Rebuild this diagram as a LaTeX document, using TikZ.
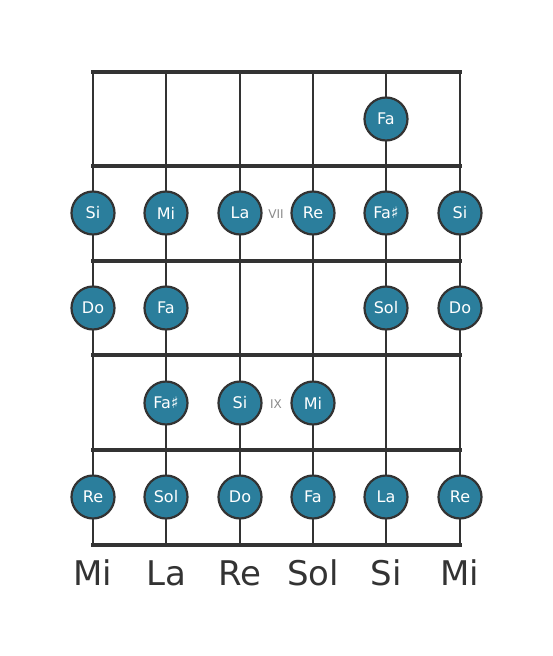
\documentclass[tikz,border=0pt]{standalone}
\usepackage{fontspec}
\setmainfont{DejaVu Sans}
\definecolor{ink}{HTML}{333333}
\definecolor{teal}{HTML}{2B7E9C}
\definecolor{roman}{HTML}{8A8A8A}
\begin{document}
\begin{tikzpicture}[x=1pt,y=-1pt,
  fret/.style={ink,line width=4.5pt},
  string/.style={ink,line width=2.2pt},
  note/.style={circle,draw=ink,line width=2.2pt,fill=teal,minimum size=43pt,inner sep=0pt,text=white,font=\fontsize{16}{16}\selectfont},
  fretnum/.style={text=roman,font=\fontsize{12}{12}\selectfont},
  strname/.style={text=ink,font=\fontsize{34}{34}\selectfont}]
\useasboundingbox (0,0) rectangle (553,656);
% strings
\foreach \x/\n in {93/s1,166/s2,240/s3,313/s4,386/s5,460/s6}{
  \coordinate (\n t) at (\x,72);
  \coordinate (\n b) at (\x,545);
  \draw[string] (\n t) -- (\n b);
}
% frets
\foreach \y/\n in {72/f0,166/f1,261/f2,355/f3,450/f4,545/f5}{
  \coordinate (\n l) at (91,\y);
  \coordinate (\n r) at (462,\y);
  \draw[fret] (\n l) -- (\n r);
}
% notes
\node[note] (a5) at (386,119) {Fa};
\node[note] (b1) at (93,213) {Si};
\node[note] (b2) at (166,213) {Mi};
\node[note] (b3) at (240,213) {La};
\node[note] (b4) at (313,213) {Re};
\node[note] (b5) at (386,213) {Fa♯};
\node[note] (b6) at (460,213) {Si};
\node[note] (c1) at (93,308) {Do};
\node[note] (c2) at (166,308) {Fa};
\node[note] (c5) at (386,308) {Sol};
\node[note] (c6) at (460,308) {Do};
\node[note] (d2) at (166,403) {Fa♯};
\node[note] (d3) at (240,403) {Si};
\node[note] (d4) at (313,403) {Mi};
\node[note] (e1) at (93,497) {Re};
\node[note] (e2) at (166,497) {Sol};
\node[note] (e3) at (240,497) {Do};
\node[note] (e4) at (313,497) {Fa};
\node[note] (e5) at (386,497) {La};
\node[note] (e6) at (460,497) {Re};
% fret numbers
\node[fretnum] (vii) at (276,214) {VII};
\node[fretnum] (ix) at (276,404) {IX};
% string names
\node[strname] (n1) at (93,573) {Mi};
\node[strname] (n2) at (166,573) {La};
\node[strname] (n3) at (240,573) {Re};
\node[strname] (n4) at (313,573) {Sol};
\node[strname] (n5) at (386,573) {Si};
\node[strname] (n6) at (460,573) {Mi};
\end{tikzpicture}
\end{document}
